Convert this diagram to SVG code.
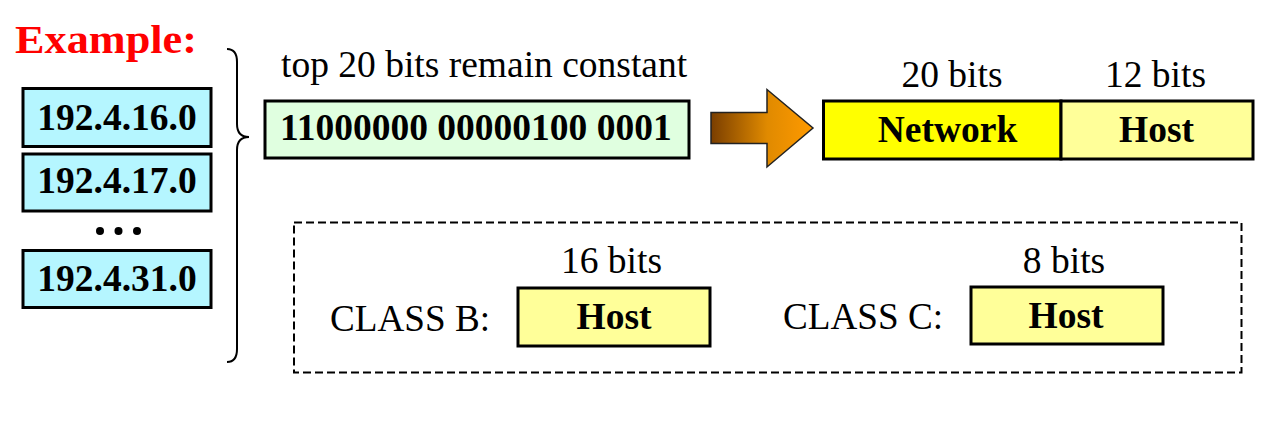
<svg xmlns="http://www.w3.org/2000/svg" width="1276" height="430" viewBox="0 0 1276 430">
<style>
  .t { font-family: "Liberation Serif", "Times New Roman", serif; font-size: 37.5px; fill: #000; }
  .b { font-weight: bold; }
  .box { stroke: #000; stroke-width: 3; }
  .cyan { fill: #b5f6ff; }
  .hostc { fill: #ffff99; }
</style>
<defs>
  <linearGradient id="ag" x1="0" y1="0" x2="1" y2="0">
    <stop offset="0" stop-color="#7a3e00"/>
    <stop offset="0.55" stop-color="#e08a00"/>
    <stop offset="1" stop-color="#ff9a00"/>
  </linearGradient>
</defs>
<rect width="1276" height="430" fill="#fff"/>

<g id="title">
  <text class="t b" x="15" y="53" style="fill:#ff0000;font-size:39px" textLength="182" lengthAdjust="spacingAndGlyphs">Example:</text>
</g>

<g id="addr1">
  <rect class="box cyan" x="23" y="88.5" width="188" height="58"/>
  <text class="t b" x="117" y="130" text-anchor="middle">192.4.16.0</text>
</g>
<g id="addr2">
  <rect class="box cyan" x="23" y="154" width="188" height="57"/>
  <text class="t b" x="117" y="193" text-anchor="middle">192.4.17.0</text>
</g>
<g id="dots">
  <circle cx="100" cy="231" r="4"/>
  <circle cx="118.5" cy="231" r="4"/>
  <circle cx="137" cy="231" r="4"/>
</g>
<g id="addr3">
  <rect class="box cyan" x="23" y="250.5" width="188" height="57"/>
  <text class="t b" x="117" y="290.5" text-anchor="middle">192.4.31.0</text>
</g>

<g id="connectors">
  <path d="M227,49 C234,49 237,54 237,62 L237,124 C237,132 241,137 249,137 C241,137 237,142 237,150 L237,349 C237,357 234,362 227,362" fill="none" stroke="#000" stroke-width="2"/>
  <polygon points="711,112.5 767,112.5 767,89.5 813,128 767,167 767,143.5 711,143.5" fill="url(#ag)" stroke="#222" stroke-width="1.5" stroke-linejoin="miter"/>
</g>

<g id="prefix">
  <text class="t" x="281" y="77">top 20 bits remain constant</text>
  <rect class="box" x="265" y="101" width="424" height="57" fill="#e0ffe0"/>
  <text class="t b" x="280" y="140">11000000 00000100 0001</text>
</g>

<g id="network">
  <text class="t" x="952" y="86.5" text-anchor="middle">20 bits</text>
  <rect class="box" x="823.5" y="101" width="237.5" height="58" fill="#ffff00"/>
  <text class="t b" x="947.5" y="141.5" text-anchor="middle">Network</text>
</g>
<g id="host">
  <text class="t" x="1155.5" y="86.5" text-anchor="middle">12 bits</text>
  <rect class="box hostc" x="1061" y="101" width="192" height="58"/>
  <text class="t b" x="1156.5" y="141.5" text-anchor="middle">Host</text>
</g>

<g id="classes">
  <rect x="294" y="222.5" width="947.5" height="150" fill="none" stroke="#000" stroke-width="2" stroke-dasharray="8,4"/>
</g>
<g id="classB">
  <text class="t" x="330" y="331" textLength="160" lengthAdjust="spacingAndGlyphs">CLASS B:</text>
  <text class="t" x="611.5" y="273" text-anchor="middle">16 bits</text>
  <rect class="box hostc" x="518" y="288" width="192" height="58"/>
  <text class="t b" x="614" y="329" text-anchor="middle">Host</text>
</g>
<g id="classC">
  <text class="t" x="783" y="329" textLength="160" lengthAdjust="spacingAndGlyphs">CLASS C:</text>
  <text class="t" x="1064" y="273" text-anchor="middle">8 bits</text>
  <rect class="box hostc" x="971" y="287" width="192" height="57"/>
  <text class="t b" x="1066" y="327.5" text-anchor="middle">Host</text>
</g>
</svg>
